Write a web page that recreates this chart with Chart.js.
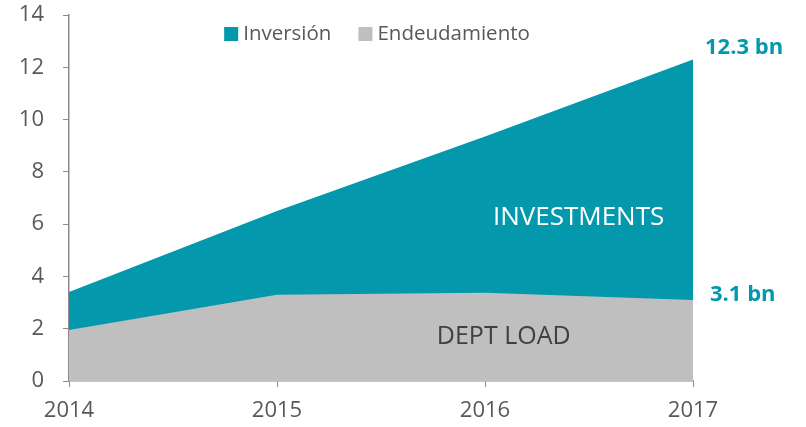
<!DOCTYPE html>
<html>
<head>
<meta charset="utf-8">
<script src="https://cdn.jsdelivr.net/npm/chart.js@4"></script>
<style>
  html, body { margin: 0; padding: 0; background: #fff; }
  #wrap { width: 806px; height: 427px; }
</style>
</head>
<body>
<div id="wrap"><canvas id="area"></canvas></div>
<script>
// data
const years = ['2014', '2015', '2016', '2017'];
const inversion = [3.4, 6.5, 9.35, 12.3];
const endeudamiento = [1.95, 3.3, 3.38, 3.1];
const yTicks = [0, 2, 4, 6, 8, 10, 12, 14];

const teal = '#0398AC', grey = '#BFBFBF', txt = '#595959', axisCol = '#8c8c8c';
const font = "'Open Sans', sans-serif";

// legend drawn by hand so it can sit inside the plot, at the top
const legendPlugin = {
  id: 'topLegend',
  afterDraw(chart) {
    const ctx = chart.ctx, ca = chart.chartArea;
    const items = [['Inversión', teal], ['Endeudamiento', grey]];
    ctx.save();
    ctx.font = '20.5px ' + font;
    ctx.textBaseline = 'middle';
    const box = 14, gap = 5, between = 27;
    let total = 0;
    items.forEach(([t], i) => { total += box + gap + ctx.measureText(t).width + (i ? 0 : between); });
    let x = (ca.left + ca.right) / 2 - total / 2 - 4;
    const y = ca.top + 19;
    items.forEach(([t, c]) => {
      ctx.fillStyle = c;
      ctx.fillRect(x, y - box / 2, box, box);
      x += box + gap;
      ctx.fillStyle = txt;
      ctx.fillText(t, x, y);
      x += ctx.measureText(t).width + between;
    });
    ctx.restore();
  }
};

// text written on top of the areas
const labelsPlugin = {
  id: 'areaLabels',
  afterDatasetsDraw(chart) {
    const ctx = chart.ctx, x = chart.scales.x, y = chart.scales.y;
    const last = years.length - 1;
    ctx.save();
    ctx.textBaseline = 'middle';
    ctx.textAlign = 'left';
    ctx.fillStyle = teal;
    ctx.font = 'bold 22px ' + font;
    ctx.fillText(inversion[last].toFixed(1) + ' bn', x.getPixelForValue(last) + 12, y.getPixelForValue(inversion[last]) - 12);
    ctx.fillText(endeudamiento[last].toFixed(1) + ' bn', x.getPixelForValue(last) + 17, y.getPixelForValue(endeudamiento[last]) - 5);
    ctx.textAlign = 'center';
    ctx.font = '26px ' + font;
    ctx.fillStyle = '#fff';
    ctx.fillText('INVESTMENTS', x.getPixelForValue(2.45), y.getPixelForValue(6.25));
    ctx.font = '25px ' + font;
    ctx.fillStyle = '#404040';
    ctx.fillText('DEPT LOAD', x.getPixelForValue(2.09), y.getPixelForValue(1.68));
    ctx.restore();
  }
};

new Chart(document.getElementById('area'), {
  type: 'line',
  data: {
    labels: years,
    datasets: [
      { label: 'Endeudamiento', data: endeudamiento, fill: 'origin',
        backgroundColor: grey, borderColor: grey, borderWidth: 0, pointRadius: 0, tension: 0 },
      { label: 'Inversión', data: inversion, fill: 'origin',
        backgroundColor: teal, borderColor: teal, borderWidth: 0, pointRadius: 0, tension: 0 }
    ]
  },
  options: {
    responsive: true,
    maintainAspectRatio: false,
    animation: false,
    layout: { padding: { top: 0, right: 113, bottom: 0, left: 0 } },
    plugins: {
      tooltip: { enabled: false },
      legend: { display: false }
    },
    scales: {
      x: {
        offset: false,
        afterFit(s) { s.height = 46; s.paddingLeft = 0; s.paddingRight = 0; },
        grid: { drawOnChartArea: false, drawTicks: true, tickLength: 6, color: axisCol },
        border: { color: axisCol, width: 1.5 },
        ticks: { color: txt, font: { family: font, size: 22 }, padding: 11, maxRotation: 0 }
      },
      y: {
        min: 0, max: 14,
        afterBuildTicks(s) { s.ticks = yTicks.map(v => ({ value: v })); },
        afterFit(s) { s.width = 69; s.paddingTop = 15; s.paddingBottom = 0; },
        grid: { drawOnChartArea: false, drawTicks: true, tickLength: 6, color: axisCol },
        border: { color: axisCol, width: 1.5 },
        ticks: { color: txt, font: { family: font, size: 22 }, padding: 19 }
      }
    }
  },
  plugins: [labelsPlugin, legendPlugin]
});
</script>
</body>
</html>
